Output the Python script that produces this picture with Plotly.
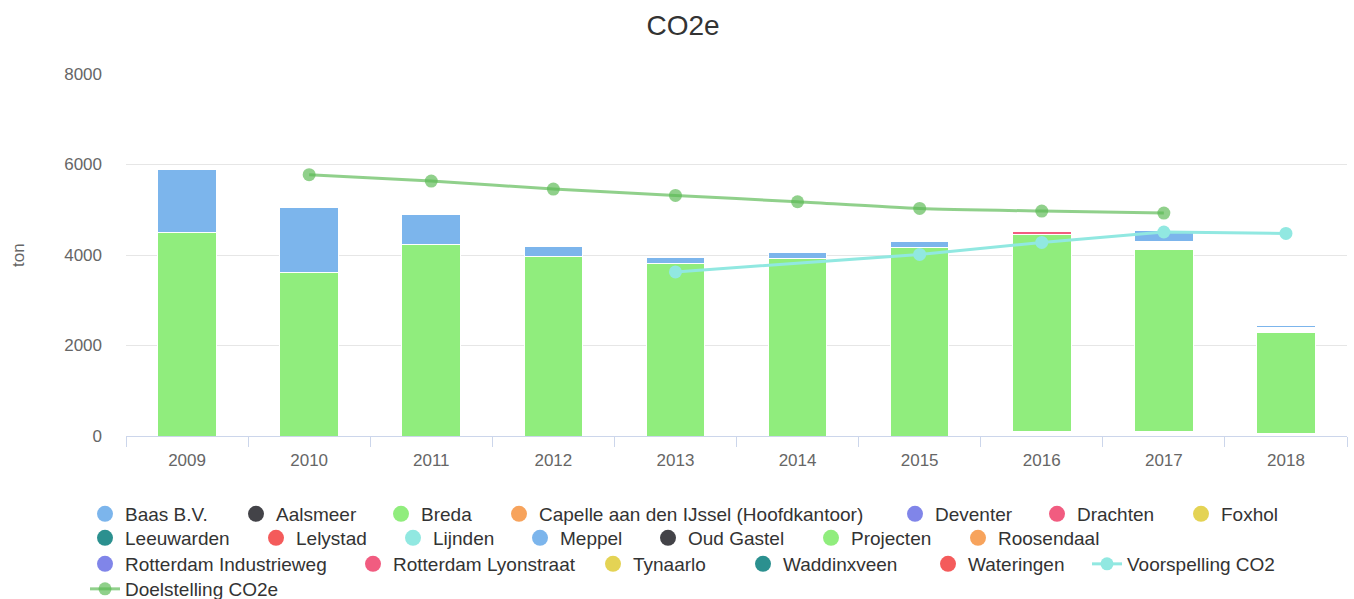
import plotly.graph_objects as go

# ---------------- data ----------------
years = ["2009", "2010", "2011", "2012", "2013", "2014", "2015", "2016", "2017", "2018"]

baas_bv = [1390, 1430, 650, 230, 130, 130, 135, None, 240, 35]
breda = [4500, 3610, 4240, 3960, 3820, 3920, 4165, 4340, 4005, 2245]
drachten = [None, None, None, None, None, None, None, 60, None, None]
# unlabelled white (empty-looking) stack parts seen in the picture
blank_bottom = [None, None, None, None, None, None, None, 110, 110, 45]
blank_middle = [None, None, None, None, None, None, None, None, 180, 110]

voorspelling_co2 = [None, None, None, None, 3625, None, 4013, 4278, 4508, 4477]
doelstelling_co2e = [None, 5775, 5633, 5457, 5316, 5177, 5029, 4971, 4927, None]

location_names = [
    "Baas B.V.", "Aalsmeer", "Breda", "Capelle aan den IJssel (Hoofdkantoor)",
    "Deventer", "Drachten", "Foxhol", "Leeuwarden", "Lelystad", "Lijnden",
    "Meppel", "Oud Gastel", "Projecten", "Roosendaal", "Rotterdam Industrieweg",
    "Rotterdam Lyonstraat", "Tynaarlo", "Waddinxveen", "Wateringen",
]
y_ticks = [0, 2000, 4000, 6000, 8000]

# ---------------- styling ----------------
palette = ["#7cb5ec", "#434348", "#90ed7d", "#f7a35c", "#8085e9",
           "#f15c80", "#e4d354", "#2b908f", "#f45b5b", "#91e8e1"]
FONT = "Liberation Sans, Arial, Helvetica, sans-serif"
W, H = 1354, 599

# legend item symbol centres (pixels) : rows of the Highcharts-like legend
legend_rows = [
    (514, [105, 256, 401, 519, 915, 1057, 1201]),
    (538, [105, 276, 413, 540, 668, 831, 978]),
    (564, [105, 373, 613, 763, 948, 1107]),
    (589, [105]),
]
legend_slots = [(cx, cy) for cy, xs in legend_rows for cx in xs]
SYMBOL_OFFSET = 20  # symbol centre offset from legend box left

fig = go.Figure()

BAR_W = 0.48
bar_line = dict(color="#ffffff", width=1)

def add_bar(values, color, name, group, show=False):
    fig.add_trace(go.Bar(
        x=years, y=values, name=name, width=BAR_W,
        marker=dict(color=color, line=bar_line),
        legendgroup=group, showlegend=show, hoverinfo="skip" if group == "blank" else None,
    ))

add_bar(blank_bottom, "#ffffff", "", "blank")
add_bar(breda, palette[2], "Breda", "Breda")
add_bar(blank_middle, "#ffffff", "", "blank")
add_bar(baas_bv, palette[0], "Baas B.V.", "Baas B.V.")
add_bar(drachten, palette[5], "Drachten", "Drachten")

# line series
doel_color = "rgba(92,186,84,0.68)"
fig.add_trace(go.Scatter(
    x=years, y=doelstelling_co2e, name="Doelstelling CO2e", mode="lines+markers",
    line=dict(color=doel_color, width=3, shape="spline", smoothing=0.6),
    marker=dict(color=doel_color, size=13), connectgaps=False,
    legend="legend21",
))
fig.add_trace(go.Scatter(
    x=years, y=voorspelling_co2, name="Voorspelling CO2", mode="lines+markers",
    line=dict(color="#91e8e1", width=3), marker=dict(color="#91e8e1", size=13),
    connectgaps=True, legend="legend20",
))

# legend proxies for the location (bar) series
for i, nm in enumerate(location_names):
    lg = "legend" if i == 0 else f"legend{i + 1}"
    fig.add_trace(go.Scatter(
        x=[None], y=[None], name=nm, mode="markers",
        marker=dict(color=palette[i % 10], size=16),
        legendgroup=nm, showlegend=True, legend=lg,
    ))

layout_legends = {}
for i, (cx, cy) in enumerate(legend_slots):
    key = "legend" if i == 0 else f"legend{i + 1}"
    layout_legends[key] = dict(
        xref="container", yref="container",
        x=(cx - SYMBOL_OFFSET) / W, y=1 - cy / H,
        xanchor="left", yanchor="middle", orientation="h",
        font=dict(family=FONT, size=19, color="#333333"),
        bgcolor="rgba(0,0,0,0)", borderwidth=0, itemsizing="trace",
    )

fig.update_layout(
    width=W, height=H,
    margin=dict(l=126, r=7, t=74, b=163, autoexpand=False),
    barmode="stack",
    plot_bgcolor="#ffffff", paper_bgcolor="#ffffff",
    font=dict(family=FONT, color="#666666"),
    title=dict(text="CO2e", x=683 / W, xref="container", xanchor="center",
               y=1 - 25 / H, yref="container", yanchor="middle",
               font=dict(family=FONT, size=28, color="#333333")),
    xaxis=dict(type="category", categoryorder="array", categoryarray=years,
               range=[-0.5, 9.5], showline=True, linecolor="#ccd6eb", linewidth=1,
               ticks="outside", ticklen=10, tickcolor="#ccd6eb", tickson="boundaries",
               ticklabelstandoff=9,
               tickfont=dict(size=17, color="#666666"), showgrid=False, fixedrange=True),
    yaxis=dict(range=[0, 8000], tickvals=y_ticks, showgrid=True, gridcolor="#e6e6e6",
               gridwidth=1, zeroline=False, showline=False, ticks="",
               ticklabelstandoff=23, tickfont=dict(size=17, color="#666666"),
               fixedrange=True),
    annotations=[dict(text="ton", textangle=-90, xref="paper", yref="paper",
                      x=(18 - 126) / 1221, y=0.5, xanchor="center", yanchor="middle",
                      showarrow=False, font=dict(family=FONT, size=17, color="#666666"))],
    hovermode="x",
    **layout_legends,
)

fig.write_html("out.html", config={"displayModeBar": False},
               post_script="document.body.style.margin='0';document.body.style.overflow='hidden';")
